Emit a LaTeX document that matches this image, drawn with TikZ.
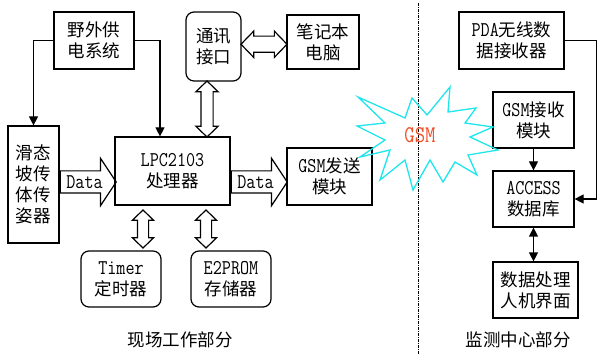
\documentclass[tikz,border=0pt]{standalone}
\usepackage{fontspec}
\setmainfont{Noto Sans CJK SC}
\setmonofont[Scale=1.2,FakeStretch=0.84]{Latin Modern Mono}
\newcommand{\lat}{\ttfamily}
\usetikzlibrary{shapes.arrows, arrows.meta, calc}
\definecolor{burstcyan}{RGB}{30,230,235}
\definecolor{gsmred}{RGB}{240,80,40}
\tikzstyle{block} = [rectangle, draw=black, line width=1.2pt, align=center, inner sep=0pt]
\tikzstyle{roundblock} = [block, rounded corners=8pt]
\tikzstyle{arrow} = [line width=1.2pt, -{Triangle[length=9pt,width=9pt]}]
\tikzstyle{bothways} = [line width=1.2pt, {Triangle[length=9pt,width=9pt]}-{Triangle[length=9pt,width=9pt]}]
\tikzstyle{dataarrow} = [single arrow, draw, line width=1.2pt, inner xsep=1pt, inner ysep=4pt, text height=13pt, text depth=0pt, minimum height=56pt, single arrow head extend=12.5pt, single arrow tip angle=113]
\tikzstyle{busarrow} = [double arrow, draw, line width=1.2pt, inner xsep=0pt, double arrow head extend=5pt, double arrow tip angle=92]
\tikzstyle{divider} = [line width=1pt, dash pattern=on 3pt off 1pt on 1pt off 1pt]

\begin{document}
\begin{tikzpicture}[x=1pt, y=-1pt, font=\fontsize{17.5}{21}\selectfont]
\useasboundingbox (0,0) rectangle (599,355);
				% 现场工作部分
				\node (power) [block, minimum width=80pt, minimum height=57pt] at (94,40.5) {野外供\\电系统};
				\node (comm) [roundblock, minimum width=55pt, minimum height=69pt] at (213.5,46.5) {通讯\\接口};
				\node (laptop) [block, minimum width=72pt, minimum height=54pt] at (323,42) {笔记本\\电脑};
				\node (sensor) [block, minimum width=51pt, minimum height=117pt] at (33.5,184.5) {滑态\\坡传\\体传\\姿器};
				\node (lpc) [block, minimum width=115pt, minimum height=68pt] at (172.5,171) {{\lat LPC2103}\\处理器};
				\node (gsmtx) [block, minimum width=85pt, minimum height=57pt] at (329.5,176.5) {{\lat GSM}发送\\模块};
				\node (timer) [roundblock, minimum width=80pt, minimum height=56pt] at (121,279) {{\lat Timer}\\定时器};
				\node (eprom) [roundblock, minimum width=80pt, minimum height=56pt] at (231,279) {{\lat E2PROM}\\存储器};

				% 监测中心部分
				\node (pda) [block, minimum width=105pt, minimum height=57pt] at (511.5,40.5) {{\lat PDA}无线数\\据接收器};
				\node (gsmrx) [block, minimum width=81pt, minimum height=56pt] at (533.5,120) {{\lat GSM}接收\\模块};
				\node (access) [block, minimum width=81pt, minimum height=56pt] at (533.5,199) {{\lat ACCESS}\\数据库};
				\node (ui) [block, minimum width=85pt, minimum height=56pt] at (535.5,290) {数据处理\\人机界面};

				% 分隔线和GSM
				\draw [divider] (418,3) -- (418,355);
				\draw [burstcyan, line width=1.3pt, line join=miter] (358,97) -- (405,118) -- (412,98) -- (427,115) -- (450,87) -- (448,112) -- (476,108) -- (465,123) -- (493,127) -- (470,137) -- (498,150) -- (468,155) -- (477,175) -- (455,162) -- (443,182) -- (430,160) -- (413,190) -- (405,160) -- (380,180) -- (390,150) -- (360,157) -- (385,140) -- (357,126) -- (385,123) -- cycle;
				\node (gsm) [text=gsmred, font=\fontsize{20}{22}\selectfont] at (420,135) {\lat GSM};

				% 连接
				\draw [arrow] (power.west) -| (sensor.north);
				\draw [arrow] (power.east) -| ([xshift=-12.5pt]lpc.north);
				\node (data1) [dataarrow, anchor=tail] at ([yshift=2.5pt]sensor.east) {\lat Data};
				\node (data2) [dataarrow, anchor=tail] at ([yshift=-11pt]lpc.east) {\lat Data};
				\node (bus1) [busarrow, inner ysep=5.5pt, minimum height=56pt, rotate=90] at (207,109) {};
				\node (bus2) [busarrow, inner ysep=7.5pt, minimum height=46pt] at ($(comm.east)!0.5!(laptop.west)$) {};
				\node (bus3) [busarrow, inner ysep=5pt, minimum height=38pt, rotate=90] at (143,229) {};
				\node (bus4) [busarrow, inner ysep=5pt, minimum height=38pt, rotate=90] at (206,229) {};
				\draw [arrow] (gsmrx.south) -- (access.north);
				\draw [arrow] (pda.east) -- ++(32,0) |- (access.east);
				\draw [bothways] (access.south) -- (access.south |- ui.north);

				% 标题
				\node (fieldlabel) at (180,340) {现场工作部分};
				\node (centerlabel) at (518,340) {监测中心部分};
\end{tikzpicture}
\end{document}
